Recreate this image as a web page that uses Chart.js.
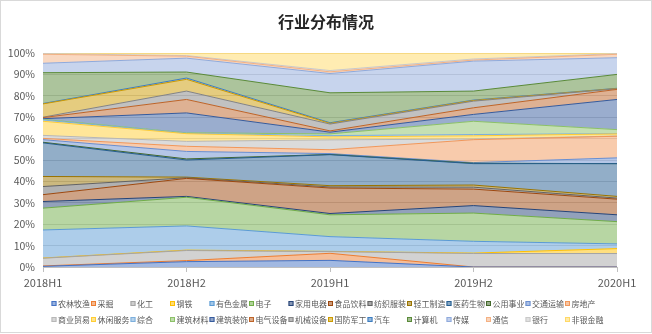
<!DOCTYPE html>
<html>
<head>
<meta charset="utf-8">
<script src="https://cdn.jsdelivr.net/npm/chart.js@4/dist/chart.umd.min.js"></script>
<style>
  html, body { margin: 0; padding: 0; background: #fff; }
  #wrap { width: 652px; height: 334px; position: relative; }
</style>
</head>
<body>
<div id="wrap"><canvas id="chart" width="652" height="334"></canvas></div>
<script>
// Periods on the x axis
const periods = ['2018H1', '2018H2', '2019H1', '2019H2', '2020H1'];

// Industry names, stacked bottom to top
const industries = ['农林牧渔', '采掘', '化工', '钢铁', '有色金属', '电子', '家用电器', '食品饮料', '纺织服装', '轻工制造',
  '医药生物', '公用事业', '交通运输', '房地产', '商业贸易', '休闲服务', '综合', '建筑材料', '建筑装饰', '电气设备',
  '机械设备', '国防军工', '汽车', '计算机', '传媒', '通信', '银行', '非银金融'];

// Weight of each industry (%) per period, same order as industries
const w2018H1 = [0.3, 0.2, 3.6, 0.1, 13.1, 10.2, 3.1, 3.2, 3.8, 4.7, 15.7, 0.3, 1.2, 0.6, 1.4, 6.6, 0.6, 0.3, 0.3, 0.5, 0.2, 6.2, 0.2, 14.4, 4.4, 4.2, 0.3, 0.3];
const w2018H2 = [2.5, 0.5, 4.7, 0.2, 11.3, 13.4, 0.4, 8.4, 0.3, 0.3, 8.0, 0.5, 3.5, 2.4, 2.3, 3.6, 0.2, 0.2, 9.3, 6.3, 3.9, 5.5, 0.6, 2.8, 6.5, 0.9, 0.3, 1.2];
const w2019H1 = [3.1, 3.3, 0.8, 0.1, 6.9, 10.2, 0.6, 11.9, 0.5, 0.6, 14.5, 0.1, 0.4, 1.8, 4.6, 1.4, 0.6, 0.8, 0.8, 0.6, 3.2, 0.3, 0.3, 14.0, 9.0, 0.8, 0.6, 8.2];
const w2019H2 = [0, 0, 6.3, 0.2, 5.5, 13.2, 3.5, 7.7, 0.9, 1.0, 10.0, 0.2, 0.3, 10.7, 0.3, 1.5, 0.6, 6.2, 3.2, 3.1, 3.1, 0.3, 0.2, 4.2, 14.0, 0.5, 0.5, 2.8];
const w2020H1 = [0, 0, 6.3, 2.3, 2.2, 10.4, 3.2, 7.3, 0.5, 0.8, 15.3, 0, 2.7, 10.1, 0.1, 1.0, 0.1, 1.9, 14.1, 4.7, 0.3, 0.1, 0.1, 6.5, 7.8, 1.6, 0.3, 0.3];

const columns = [w2018H1, w2018H2, w2019H1, w2019H2, w2020H1];

// Office palette: base, dark, light, mid-dark, pale
const palette = [
  '#4472C4', '#ED7D31', '#A5A5A5', '#FFC000', '#5B9BD5', '#70AD47',
  '#264478', '#9E480E', '#636363', '#997300', '#255E91', '#43682B',
  '#698ED0', '#F1975A', '#B7B7B7', '#FFCD33', '#7CAFDD', '#8CC168',
  '#365B9D', '#BE6428', '#848484', '#CC9A00', '#3C7DC0', '#5A8A39',
  '#8FAADC', '#F4B183', '#C9C9C9', '#FFD966'
];

function withAlpha(hex, a) {
  const n = parseInt(hex.slice(1), 16);
  return `rgba(${n >> 16}, ${(n >> 8) & 255}, ${n & 255}, ${a})`;
}

// 100% stacking: scale every period so its column sums to 100
const totals = columns.map(col => col.reduce((a, b) => a + b, 0));

const datasets = industries.map((name, i) => ({
  label: name,
  data: columns.map((col, j) => col[i] / totals[j] * 100),
  backgroundColor: withAlpha(palette[i], 0.5),
  borderColor: palette[i],
  borderWidth: 1,
  fill: i === 0 ? 'origin' : '-1',
  pointRadius: 0,
  tension: 0
}));

const FONT = '"Noto Sans CJK SC", "Noto Sans", sans-serif';

// Title, legend grid and outer frame
const decorations = {
  id: 'decorations',
  afterDraw(chart) {
    const ctx = chart.ctx;
    ctx.save();

    ctx.strokeStyle = '#D9D9D9';
    ctx.lineWidth = 1;
    ctx.strokeRect(0.5, 0.5, chart.width - 1, chart.height - 2);

    ctx.fillStyle = '#262626';
    ctx.font = 'bold 16px ' + FONT;
    ctx.textAlign = 'center';
    ctx.textBaseline = 'middle';
    ctx.fillText('行业分布情况', 326, 22);

    ctx.font = '8px ' + FONT;
    ctx.textAlign = 'left';
    const perRow = 14;
    chart.data.datasets.forEach((ds, i) => {
      const col = i % perRow;
      const row = Math.floor(i / perRow);
      const x = 51.5 + col * 39.5;
      const y = 303.5 + row * 16;
      ctx.fillStyle = withAlpha(palette[i], 0.55);
      ctx.fillRect(x, y - 2.5, 5, 5);
      ctx.strokeStyle = palette[i];
      ctx.strokeRect(x + 0.5, y - 2, 4, 4);
      ctx.fillStyle = '#595959';
      ctx.fillText(ds.label, x + 6.5, y + 0.5);
    });
    ctx.restore();
  }
};

new Chart(document.getElementById('chart'), {
  type: 'line',
  data: { labels: periods, datasets: datasets },
  options: {
    responsive: false,
    animation: false,
    layout: { padding: { top: 53, right: 35, bottom: 0, left: 0 } },
    plugins: {
      legend: { display: false },
      title: { display: false },
      tooltip: { enabled: false }
    },
    scales: {
      x: {
        offset: false,
        grid: { display: true, drawOnChartArea: false, drawTicks: true, tickLength: 5, color: '#BFBFBF' },
        border: { color: '#BFBFBF' },
        ticks: { color: '#595959', font: { family: FONT, size: 11 }, padding: 4, maxRotation: 0 },
        afterFit(scale) { scale.height = 67; }
      },
      y: {
        stacked: true,
        min: 0,
        max: 100,
        grid: { color: '#D9D9D9', drawTicks: false },
        border: { display: false },
        ticks: {
          stepSize: 10,
          color: '#595959',
          font: { family: FONT, size: 10.5 },
          padding: 8,
          callback: v => v + '%'
        },
        afterFit(scale) { scale.width = 43; }
      }
    }
  },
  plugins: [decorations]
});
</script>
</body>
</html>
